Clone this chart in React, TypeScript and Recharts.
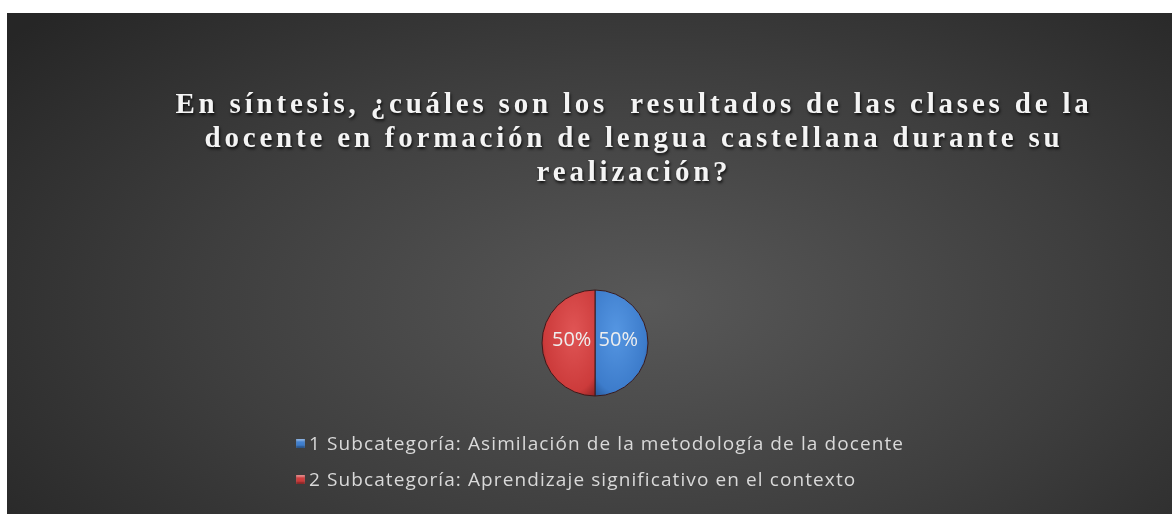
import { PieChart, Pie, Cell, Legend } from "recharts"

const categories = [
  "1 Subcategoría: Asimilación de la metodología de la docente",
  "2 Subcategoría: Aprendizaje significativo en el contexto",
]
const values = [50, 50]
const colors = ["#3f7fcf", "#cf3c3c"]
const titleLines = [
  "En síntesis, ¿cuáles son los  resultados de las clases de la",
  "docente en formación de lengua castellana durante su",
  "realización?",
]

const data = categories.map((name, i) => ({ name, value: values[i] }))

const RAD = Math.PI / 180

function renderLabel(props: any) {
  const { cx, cy, midAngle, outerRadius, percent } = props
  const r = outerRadius * 0.44
  const x = cx + r * Math.cos(-midAngle * RAD)
  const y = cy + r * Math.sin(-midAngle * RAD) - 5
  return (
    <text
      x={x}
      y={y}
      fill="#eeeeee"
      textAnchor="middle"
      dominantBaseline="central"
      fontFamily="'Open Sans', sans-serif"
      fontSize={20}
    >
      {`${Math.round(percent * 100)}%`}
    </text>
  )
}

function LegendContent() {
  return (
    <div style={{ fontFamily: "'Open Sans', sans-serif", fontSize: 19, letterSpacing: 1.1, color: "#d9d9d9" }}>
      {data.map((d, i) => (
        <div key={i} style={{ display: "flex", alignItems: "center", height: 36 }}>
          <span
            style={{
              width: 9,
              height: 9,
              marginRight: 4,
              background: colors[i],
              boxShadow: "inset 0 -2px 2px rgba(0,0,0,0.35), inset 0 2px 2px rgba(255,255,255,0.4)",
            }}
          />
          {d.name}
        </div>
      ))}
    </div>
  )
}

export default function App() {
  return (
    <div
      style={{
        position: "fixed",
        left: 7,
        top: 13,
        width: 1165,
        height: 501,
        background: "radial-gradient(ellipse 70% 85% at 55% 58%, #585858 0%, #3e3e3e 55%, #262626 100%)",
        overflow: "hidden",
      }}
    >
      <div
        style={{
          position: "absolute",
          left: 0,
          top: 73,
          width: 1254,
          textAlign: "center",
          fontFamily: "'Liberation Serif', serif",
          fontWeight: "bold",
          fontSize: 29,
          letterSpacing: 3.8,
          lineHeight: "34px",
          color: "#f4f4f4",
          textShadow: "1px 2px 3px rgba(0,0,0,0.8)",
        }}
      >
        {titleLines.map((t, i) => (
          <div key={i} style={{ whiteSpace: "pre" }}>
            {t}
          </div>
        ))}
      </div>
      <PieChart width={1165} height={501} style={{ position: "absolute", left: 0, top: 0 }}>
        <defs>
          <radialGradient id="gBlue" cx="40%" cy="40%" r="70%">
            <stop offset="0%" stopColor="#5596e2" />
            <stop offset="80%" stopColor="#3d7ccb" />
            <stop offset="100%" stopColor="#2a5c9e" />
          </radialGradient>
          <radialGradient id="gRed" cx="60%" cy="40%" r="70%">
            <stop offset="0%" stopColor="#e05555" />
            <stop offset="80%" stopColor="#cc3b3b" />
            <stop offset="100%" stopColor="#962626" />
          </radialGradient>
        </defs>
        <Pie
          data={data}
          dataKey="value"
          nameKey="name"
          cx={583}
          cy={325}
          outerRadius={53}
          startAngle={90}
          endAngle={-270}
          stroke="#3a1a1a"
          strokeWidth={1}
          label={renderLabel}
          labelLine={false}
          isAnimationActive={false}
        >
          {data.map((_, i) => (
            <Cell key={i} fill={i === 0 ? "url(#gBlue)" : "url(#gRed)"} />
          ))}
        </Pie>
        <Legend
          content={<LegendContent />}
          layout="vertical"
          wrapperStyle={{ position: "absolute", left: 289, top: 412, width: 800 }}
        />
      </PieChart>
    </div>
  )
}
